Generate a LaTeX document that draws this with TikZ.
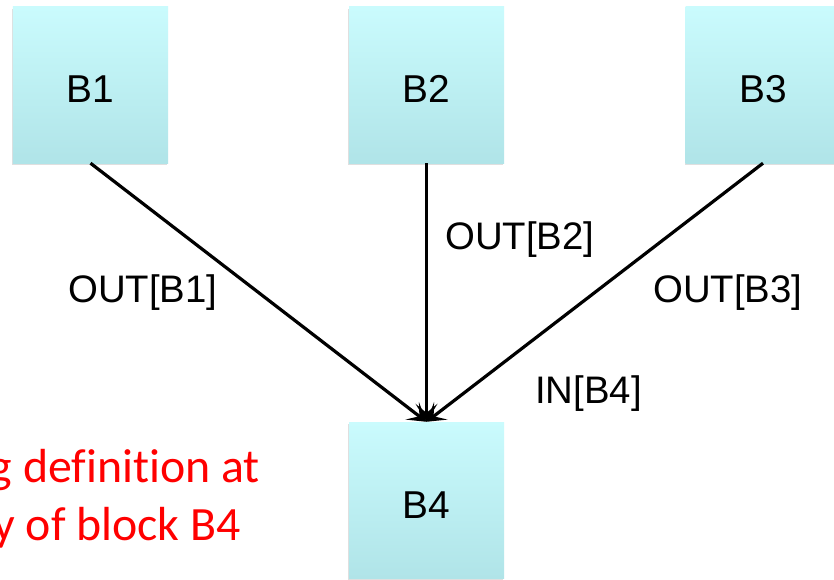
\documentclass[tikz,border=0pt]{standalone}
\usepackage{fontspec}
\setmainfont{Liberation Sans}
\newfontfamily\redfont[Ligatures=NoCommon]{Carlito}
\usetikzlibrary{arrows.meta,shadows}
\definecolor{boxtop}{RGB}{202,251,253}
\definecolor{boxbot}{RGB}{176,228,232}
\definecolor{notered}{RGB}{255,0,0}
\tikzset{
  block/.style={rectangle, minimum width=155bp, minimum height=156bp,
    top color=boxtop, bottom color=boxbot, draw=none,
    drop shadow={shadow xshift=-1bp, shadow yshift=-2bp, opacity=0.25},
    font=\fontsize{39}{39}\selectfont, text height=36bp, text depth=0bp, inner sep=0pt},
  flow/.style={line width=3.2bp, -{Stealth[length=18bp,width=22bp,inset=9bp]}},
  lab/.style={font=\fontsize{38.5}{38.5}\selectfont, inner sep=0pt, anchor=base west},
  note/.style={font=\redfont\fontsize{48}{48}\selectfont, text=notered, inner sep=0pt, anchor=base east}
}
\begin{document}
\begin{tikzpicture}[x=1bp,y=-1bp]
\useasboundingbox (0,0) rectangle (834,580);
\clip (0,0) rectangle (834,580);
\fill[white] (0,0) rectangle (834,580);
\node[block] (b1) at (90.5,85) {B1};
\node[block] (b2) at (426.5,85) {B2};
\node[block] (b3) at (763,85) {B3};
\node[block] (b4) at (426.5,500) {B4};
\draw[flow] (b1.south) -- (b4.north);
\draw[flow] (b2.south) -- (b4.north);
\draw[flow] (b3.south) -- (b4.north);
\node[lab] (o1) at (68,302) {OUT[B1]};
\node[lab] (o2) at (445,250) {OUT[B2]};
\node[lab] (o3) at (653,302) {OUT[B3]};
\node[lab] (i4) at (535,403) {IN[B4]};
\node[note] (n1) at (260,482) {g definition at};
\node[note] (n2) at (241,540) {y of block B4};
\end{tikzpicture}
\end{document}
